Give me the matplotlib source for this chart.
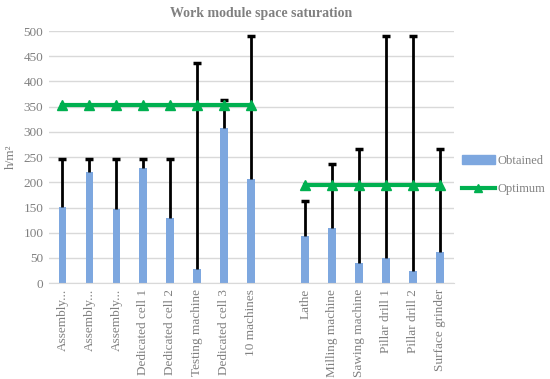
import numpy as np
import matplotlib
matplotlib.use("Agg")
import matplotlib.pyplot as plt
from matplotlib.lines import Line2D
from matplotlib.patches import Patch

categories = ["Assembly...", "Assembly...", "Assembly...", "Dedicated cell 1", "Dedicated cell 2",
              "Testing machine", "Dedicated cell 3", "10 machines", "",
              "Lathe", "Milling machine", "Sawing machine", "Pillar drill 1", "Pillar drill 2",
              "Surface grinder"]
obtained = [151, 221, 147, 228, 130, 28, 307, 207, np.nan, 94, 109, 40, 50, 24, 61]
error_top = [246, 246, 246, 246, 246, 436, 363, 491, np.nan, 163, 237, 267, 491, 491, 267]
optimum = [354, 354, 354, 354, 354, 354, 354, 354, np.nan, 194, 194, 194, 194, 194, 194]
yticks = [0, 50, 100, 150, 200, 250, 300, 350, 400, 450, 500]

plt.rcParams['font.family'] = ['Liberation Serif', 'DejaVu Serif']
txt = '#808080'

fig = plt.figure(figsize=(5.5, 3.79), dpi=100)
ax = fig.add_axes([0.089, 0.253, 0.736, 0.665])

x = np.arange(len(categories))
ob = np.array(obtained, dtype=float)
et = np.array(error_top, dtype=float)
ax.bar(x, ob, width=0.29, color='#7DA7DF', zorder=2)
mask = ~np.isnan(ob)
ax.vlines(x[mask], ob[mask], et[mask], color='black', lw=2, zorder=3)
ax.plot(x[mask], et[mask], ls='none', marker='_', markersize=5.5, mew=2.5,
        color='black', zorder=3)
ax.plot(x, optimum, color='#00B050', lw=3, marker='^', markersize=7, zorder=4)

ax.set_xlim(-0.5, len(categories) - 0.5)
ax.set_ylim(0, 500)
ax.set_yticks(yticks)
ax.yaxis.grid(True, color='#d9d9d9', lw=1, zorder=0)
ax.set_axisbelow(True)
for s in ['top', 'right', 'left']:
    ax.spines[s].set_visible(False)
ax.spines['bottom'].set_color('#d9d9d9')
ax.tick_params(length=0, labelsize=9.5, colors=txt, pad=4)
ax.set_xticks(x)
ax.set_xticklabels(categories, rotation=90)
ax.set_ylabel('h/m²', color=txt, fontsize=9.5, labelpad=5)
fig.text(261 / 550, 1 - 13 / 379, 'Work module space saturation', color=txt, fontsize=10,
         fontweight='bold', ha='center', va='center')

handles = [Patch(color='#7DA7DF'),
           Line2D([0], [0], color='#00B050', lw=3, marker='^', markersize=6)]
fig.legend(handles, ['Obtained', 'Optimum'], loc='center left',
           bbox_to_anchor=(462 / 550, 1 - 175 / 379), frameon=False, fontsize=9,
           labelcolor=txt, handlelength=2.6, handleheight=0.8, labelspacing=1.3,
           handletextpad=0.25, borderpad=0, borderaxespad=0)

fig.savefig('out.png', dpi=100)
